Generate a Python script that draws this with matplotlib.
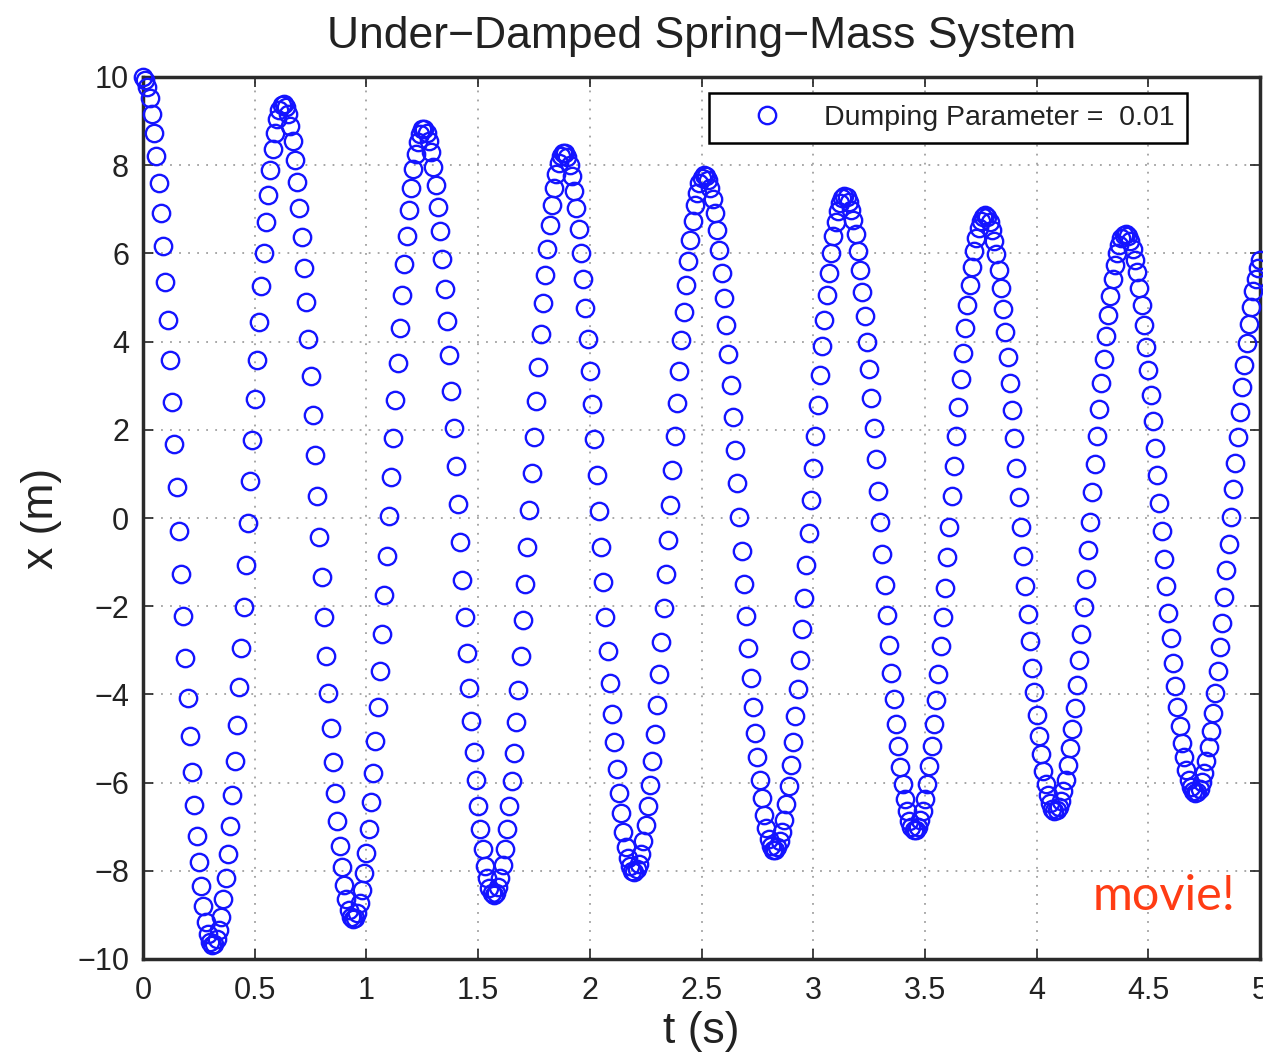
import numpy as np
import matplotlib
matplotlib.use("Agg")
import matplotlib.pyplot as plt

sample_step_s = 0.01
position_m = [
    10.00, 9.94, 9.78, 9.52, 9.17, 8.73, 8.20, 7.59, 6.91, 6.16,
    5.35, 4.49, 3.58, 2.64, 1.68, 0.70, -0.29, -1.27, -2.23, -3.17,
    -4.08, -4.94, -5.76, -6.51, -7.20, -7.81, -8.35, -8.80, -9.16, -9.43,
    -9.61, -9.69, -9.67, -9.55, -9.35, -9.04, -8.65, -8.17, -7.61, -6.98,
    -6.28, -5.52, -4.70, -3.84, -2.94, -2.02, -1.07, -0.12, 0.83, 1.78,
    2.70, 3.59, 4.45, 5.26, 6.01, 6.71, 7.33, 7.88, 8.36, 8.74,
    9.04, 9.25, 9.37, 9.39, 9.32, 9.15, 8.90, 8.55, 8.12, 7.61,
    7.03, 6.38, 5.66, 4.89, 4.07, 3.22, 2.33, 1.42, 0.50, -0.43,
    -1.34, -2.25, -3.12, -3.97, -4.77, -5.53, -6.23, -6.86, -7.43, -7.92,
    -8.33, -8.65, -8.89, -9.04, -9.10, -9.07, -8.95, -8.73, -8.44, -8.05,
    -7.59, -7.06, -6.45, -5.78, -5.06, -4.28, -3.47, -2.62, -1.74, -0.86,
    0.04, 0.93, 1.81, 2.68, 3.51, 4.31, 5.06, 5.76, 6.40, 6.98,
    7.48, 7.91, 8.26, 8.53, 8.71, 8.81, 8.81, 8.73, 8.56, 8.30,
    7.97, 7.55, 7.06, 6.50, 5.88, 5.20, 4.47, 3.69, 2.88, 2.05,
    1.19, 0.32, -0.54, -1.41, -2.25, -3.07, -3.86, -4.61, -5.31, -5.95,
    -6.54, -7.06, -7.51, -7.88, -8.17, -8.38, -8.51, -8.55, -8.50, -8.37,
    -8.16, -7.87, -7.50, -7.05, -6.54, -5.96, -5.32, -4.63, -3.89, -3.12,
    -2.32, -1.50, -0.66, 0.18, 1.02, 1.84, 2.65, 3.43, 4.17, 4.87,
    5.52, 6.11, 6.64, 7.10, 7.49, 7.81, 8.05, 8.20, 8.28, 8.27,
    8.18, 8.00, 7.75, 7.42, 7.02, 6.55, 6.01, 5.42, 4.77, 4.07,
    3.34, 2.58, 1.79, 0.98, 0.17, -0.65, -1.45, -2.24, -3.01, -3.74,
    -4.44, -5.09, -5.69, -6.23, -6.70, -7.11, -7.45, -7.71, -7.89, -8.00,
    -8.02, -7.97, -7.84, -7.62, -7.33, -6.97, -6.54, -6.05, -5.50, -4.89,
    -4.23, -3.54, -2.81, -2.05, -1.28, -0.49, 0.30, 1.09, 1.86, 2.61,
    3.34, 4.03, 4.68, 5.28, 5.82, 6.31, 6.74, 7.09, 7.38, 7.59,
    7.72, 7.78, 7.75, 7.66, 7.48, 7.23, 6.91, 6.52, 6.07, 5.56,
    4.99, 4.37, 3.71, 3.02, 2.30, 1.55, 0.79, 0.03, -0.74, -1.49,
    -2.23, -2.95, -3.63, -4.28, -4.88, -5.43, -5.93, -6.36, -6.74, -7.04,
    -7.28, -7.44, -7.52, -7.53, -7.47, -7.33, -7.12, -6.84, -6.49, -6.07,
    -5.60, -5.07, -4.49, -3.87, -3.21, -2.52, -1.81, -1.07, -0.34, 0.41,
    1.14, 1.87, 2.57, 3.25, 3.89, 4.49, 5.05, 5.55, 6.00, 6.39,
    6.71, 6.96, 7.15, 7.26, 7.30, 7.27, 7.17, 6.99, 6.75, 6.43,
    6.06, 5.62, 5.13, 4.59, 4.00, 3.38, 2.72, 2.04, 1.34, 0.62,
    -0.10, -0.81, -1.52, -2.21, -2.88, -3.51, -4.11, -4.67, -5.18, -5.64,
    -6.04, -6.38, -6.65, -6.86, -7.00, -7.07, -7.07, -7.00, -6.85, -6.64,
    -6.37, -6.03, -5.63, -5.18, -4.67, -4.12, -3.53, -2.91, -2.25, -1.58,
    -0.89, -0.20, 0.50, 1.19, 1.86, 2.52, 3.15, 3.75, 4.31, 4.82,
    5.29, 5.70, 6.05, 6.35, 6.57, 6.74, 6.83, 6.86, 6.82, 6.71,
    6.53, 6.29, 5.99, 5.62, 5.21, 4.74, 4.22, 3.66, 3.07, 2.45,
    1.81, 1.14, 0.47, -0.20, -0.87, -1.54, -2.18, -2.80, -3.40, -3.95,
    -4.47, -4.94, -5.36, -5.73, -6.04, -6.29, -6.47, -6.59, -6.64, -6.63,
    -6.55, -6.41, -6.20, -5.93, -5.60, -5.22, -4.78, -4.30, -3.78, -3.22,
    -2.63, -2.01, -1.38, -0.73, -0.08, 0.58, 1.22, 1.86, 2.47, 3.06,
    3.61, 4.13, 4.60, 5.03, 5.41, 5.73, 6.00, 6.20, 6.35, 6.42,
    6.44, 6.39, 6.28, 6.10, 5.86, 5.57, 5.22, 4.82, 4.37, 3.88,
    3.35, 2.79, 2.20, 1.59, 0.97, 0.34, -0.30, -0.93, -1.55, -2.15,
    -2.73, -3.28, -3.80, -4.28, -4.71, -5.10, -5.43, -5.71, -5.94, -6.10,
    -6.20, -6.24, -6.22, -6.14, -5.99, -5.78, -5.52, -5.20, -4.84, -4.42,
    -3.96, -3.46, -2.93, -2.37, -1.79, -1.19, -0.58, 0.03, 0.65, 1.25,
    1.84, 2.41, 2.96, 3.48, 3.96, 4.40, 4.79, 5.14, 5.43, 5.67,
    5.85,
]
time_s = np.round(np.arange(len(position_m)) * sample_step_s, 2)

x_ticks = [0, 0.5, 1, 1.5, 2, 2.5, 3, 3.5, 4, 4.5, 5]
x_tick_labels = ["0", "0.5", "1", "1.5", "2", "2.5", "3", "3.5", "4", "4.5", "5"]
y_ticks = [-10, -8, -6, -4, -2, 0, 2, 4, 6, 8, 10]
legend_label = "Dumping Parameter =  0.01"

# ---- figure ----
plt.rcParams["font.family"] = ["Liberation Sans", "DejaVu Sans"]
W, H = 1263, 1056
fig = plt.figure(figsize=(W / 100, H / 100), dpi=100)
ax_l, ax_r, ax_t, ax_b = 143, 1260, 77, 959
ax = fig.add_axes([ax_l / W, 1 - ax_b / H, (ax_r - ax_l) / W, (ax_b - ax_t) / H])

ax.plot(time_s, position_m, linestyle="none", marker="o", markersize=12.5,
        markerfacecolor="none", markeredgecolor="#1414ff", markeredgewidth=1.7,
        label=legend_label, clip_on=False, zorder=3)

ax.set_xlim(0, 5)
ax.set_ylim(-10, 10)
ax.set_xticks(x_ticks)
ax.set_xticklabels(x_tick_labels)
ax.set_yticks(y_ticks)
ax.grid(True, linestyle=(0, (1, 4)), color="#a0a0a0", linewidth=1.3)
ax.tick_params(direction="in", length=7, width=1.2, top=True, right=True,
               labelsize=22, colors="#222222")
ax.tick_params(axis="x", pad=12)
ax.tick_params(axis="y", pad=10)
for s in ax.spines.values():
    s.set_linewidth(2.5)
    s.set_color("#2a2a2a")

ax.set_title("Under\u2212Damped Spring\u2212Mass System", fontsize=32, pad=21,
             color="#222222")
ax.set_xlabel("t (s)", fontsize=32, labelpad=4, color="#222222")
ax.set_ylabel("x (m)", fontsize=32, labelpad=11, color="#222222")

leg = ax.legend(loc="upper right",
                bbox_to_anchor=((1187 - ax_l) / (ax_r - ax_l), (ax_b - 93) / (ax_b - ax_t)),
                borderaxespad=0, fontsize=20.5, numpoints=1, fancybox=False,
                edgecolor="black", framealpha=1, borderpad=0.42,
                handlelength=3.3, handletextpad=0.35)
leg.get_frame().set_linewidth(1.8)
for txt in leg.get_texts():
    txt.set_color("#222222")

fig.text(1093 / W, 1 - 910 / H, "movie!", fontsize=35, color="#ff3c14",
         family=["Lato", "DejaVu Sans"], ha="left", va="baseline")

fig.savefig("out.png", dpi=100)
